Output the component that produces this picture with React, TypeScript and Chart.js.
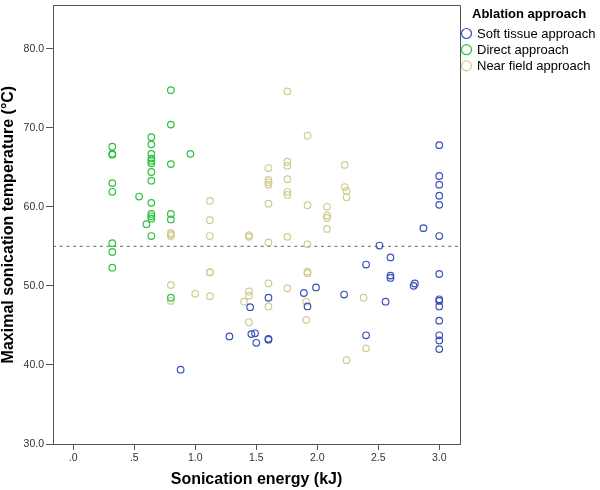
import React, { useEffect, useRef } from 'react';
import { Chart, registerables } from 'chart.js';

Chart.register(...registerables);

// ---- Data ----
const SERIES_NAMES = ['Soft tissue approach', 'Direct approach', 'Near field approach'];
const SERIES_COLORS = ['#3c52b8', '#2fc23f', '#d3cc92'];

const SOFT_X = [0.88, 1.28, 1.45, 1.46, 1.49, 1.50, 1.60, 1.60, 1.60, 1.89, 1.92, 1.99, 2.22, 2.40, 2.40, 2.51, 2.56, 2.60, 2.60, 2.60, 2.79, 2.80, 2.87,
  3.0, 3.0, 3.0, 3.0, 3.0, 3.0, 3.0, 3.0, 3.0, 3.0, 3.0, 3.0, 3.0, 3.0];
const SOFT_Y = [39.4, 43.6, 47.3, 43.9, 44.0, 42.8, 48.5, 43.3, 43.2, 49.1, 47.4, 49.8, 48.9, 52.7, 43.75, 55.1, 48.0, 53.6, 51.3, 51.0, 50.0, 50.3, 57.3,
  67.8, 63.9, 62.8, 61.4, 60.25, 56.3, 51.5, 48.3, 48.1, 47.4, 45.6, 43.75, 43.1, 42.0];

const DIRECT_X = [0.32, 0.32, 0.32, 0.32, 0.32, 0.32, 0.32, 0.32, 0.54, 0.60,
  0.64, 0.64, 0.64, 0.64, 0.64, 0.64, 0.64, 0.64, 0.64, 0.64, 0.64, 0.64, 0.64,
  0.80, 0.80, 0.80, 0.80, 0.80, 0.80, 0.96];
const DIRECT_Y = [67.6, 66.7, 66.6, 63.0, 61.9, 55.4, 54.3, 52.3, 61.3, 57.8,
  68.8, 67.9, 66.7, 66.1, 65.8, 65.5, 64.4, 63.3, 60.5, 59.1, 58.8, 58.5, 56.3,
  74.75, 70.4, 65.4, 59.1, 58.4, 48.5, 66.7];

const NEAR_X = [0.80, 0.80, 0.80, 0.80, 0.80, 1.00,
  1.12, 1.12, 1.12, 1.12, 1.12, 1.12, 1.40,
  1.44, 1.44, 1.44, 1.44, 1.44,
  1.60, 1.60, 1.60, 1.60, 1.60, 1.60, 1.60, 1.60,
  1.755, 1.755, 1.755, 1.755, 1.755, 1.755, 1.755, 1.755,
  1.92, 1.92, 1.92, 1.92, 1.92, 1.91, 1.91,
  2.08, 2.08, 2.08, 2.08, 2.225, 2.225, 2.24, 2.24, 2.24, 2.38, 2.40];
const NEAR_Y = [56.7, 56.5, 56.3, 50.1, 48.1, 49.0,
  60.75, 58.3, 56.3, 51.75, 51.7, 48.7, 48.0,
  56.4, 56.2, 49.3, 48.75, 45.4,
  64.9, 63.4, 63.1, 62.8, 60.4, 55.5, 50.3, 47.4,
  74.6, 65.7, 65.2, 63.5, 61.9, 61.5, 56.2, 49.7,
  69.0, 60.2, 55.25, 51.8, 51.6, 48.0, 45.7,
  60.0, 58.9, 58.6, 57.2, 65.3, 62.5, 62.0, 61.2, 40.6, 48.5, 42.1];

const X_TICKS = [0, 0.5, 1, 1.5, 2, 2.5, 3];
const X_TICK_LABELS = ['.0', '.5', '1.0', '1.5', '2.0', '2.5', '3.0'];
const Y_TICKS = [30, 40, 50, 60, 70, 80];
const Y_TICK_LABELS = ['30.0', '40.0', '50.0', '60.0', '70.0', '80.0'];

const X_MIN = -0.166;
const X_MAX = 3.17;
const Y_MIN = 30;
const Y_MAX = 85.5;
const REF_Y = 55;

const X_TITLE = 'Sonication energy (kJ)';
const Y_TITLE = 'Maximal sonication temperature (°C)';
const LEGEND_TITLE = 'Ablation approach';

// ---- Styles ----
const FONT = '"Liberation Sans", Arial, Helvetica, sans-serif';
const AXIS_COLOR = '#555555';
const TICK_COLOR = '#333333';

const toPoints = (xs: number[], ys: number[]) => xs.map((x, i) => ({ x, y: ys[i] }));

const frameAndLegend = {
  id: 'frameAndLegend',
  afterDraw(chart: any) {
    const { ctx, chartArea: a } = chart;
    ctx.save();
    ctx.strokeStyle = AXIS_COLOR;
    ctx.lineWidth = 1;
    ctx.beginPath();
    ctx.moveTo(a.left, Math.round(a.top) + 0.5);
    ctx.lineTo(Math.round(a.right) + 0.5, Math.round(a.top) + 0.5);
    ctx.lineTo(Math.round(a.right) + 0.5, a.bottom);
    ctx.stroke();

    // legend
    const lx = a.right + 12;
    ctx.fillStyle = '#000';
    ctx.textAlign = 'left';
    ctx.textBaseline = 'middle';
    ctx.font = `bold 13px ${FONT}`;
    ctx.fillText(LEGEND_TITLE, lx, 14);
    ctx.font = `13px ${FONT}`;
    const ds = chart.data.datasets.filter((d: any) => !d.isRef);
    ds.forEach((d: any, i: number) => {
      const y = 33.5 + i * 16.2;
      ctx.beginPath();
      ctx.strokeStyle = d.borderColor;
      ctx.lineWidth = 1.2;
      ctx.arc(a.right + 6.5, y, 5, 0, Math.PI * 2);
      ctx.stroke();
      ctx.fillStyle = '#000';
      ctx.fillText(d.label, a.right + 17, y + 0.5);
    });
    ctx.restore();
  },
};

export default function App() {
  const ref = useRef<HTMLCanvasElement | null>(null);

  useEffect(() => {
    if (!ref.current) return;
    const pointDs = (i: number, xs: number[], ys: number[]) => ({
      label: SERIES_NAMES[i],
      data: toPoints(xs, ys),
      borderColor: SERIES_COLORS[i],
      backgroundColor: 'rgba(0,0,0,0)',
      pointRadius: 3.3,
      pointBorderWidth: 1.2,
      pointStyle: 'circle',
    });
    const chart = new Chart(ref.current, {
      type: 'scatter',
      data: {
        datasets: [
          {
            label: 'ref',
            isRef: true,
            data: [{ x: X_MIN, y: REF_Y }, { x: X_MAX, y: REF_Y }],
            showLine: true,
            borderColor: '#666666',
            borderWidth: 1,
            borderDash: [3, 3.7],
            pointRadius: 0,
            order: 10,
          } as any,
          pointDs(0, SOFT_X, SOFT_Y),
          pointDs(1, DIRECT_X, DIRECT_Y),
          pointDs(2, NEAR_X, NEAR_Y),
        ],
      },
      options: {
        animation: false,
        responsive: false,
        maintainAspectRatio: false,
        devicePixelRatio: 1,
        layout: { padding: { top: 1, right: 140, bottom: 0, left: 0 } },
        plugins: {
          legend: { display: false },
          tooltip: { enabled: false },
        },
        scales: {
          x: {
            type: 'linear',
            min: X_MIN,
            max: X_MAX,
            afterBuildTicks: (s: any) => { s.ticks = X_TICKS.map((v) => ({ value: v })); },
            afterFit: (s: any) => { s.height = 46; s.paddingLeft = 0; s.paddingRight = 0; },
            grid: { display: true, drawOnChartArea: false, drawTicks: true, tickLength: 6, color: AXIS_COLOR, tickColor: AXIS_COLOR },
            border: { display: true, color: AXIS_COLOR, width: 1 },
            ticks: {
              padding: 2,
              color: TICK_COLOR,
              font: { family: FONT, size: 10.5 },
              maxRotation: 0,
              autoSkip: false,
              callback: (v: any) => { const i = X_TICKS.indexOf(Number(v)); return i >= 0 ? X_TICK_LABELS[i] : ''; },
            },
            title: {
              display: true,
              text: X_TITLE,
              color: '#000',
              font: { family: FONT, size: 16, weight: 'bold', lineHeight: 1 },
              padding: { top: 0, bottom: 2 },
            },
          },
          y: {
            type: 'linear',
            min: Y_MIN,
            max: Y_MAX,
            afterBuildTicks: (s: any) => { s.ticks = Y_TICKS.map((v) => ({ value: v })); },
            afterFit: (s: any) => { s.width = 53; s.paddingTop = 0; s.paddingBottom = 0; },
            grid: { display: true, drawOnChartArea: false, drawTicks: true, tickLength: 7, color: AXIS_COLOR, tickColor: AXIS_COLOR },
            border: { display: true, color: AXIS_COLOR, width: 1 },
            ticks: {
              padding: 2,
              color: TICK_COLOR,
              font: { family: FONT, size: 10.5 },
              autoSkip: false,
              callback: (v: any) => { const i = Y_TICKS.indexOf(Number(v)); return i >= 0 ? Y_TICK_LABELS[i] : ''; },
            },
            title: {
              display: true,
              text: Y_TITLE,
              color: '#000',
              font: { family: FONT, size: 16, weight: 'bold', lineHeight: 1 },
              padding: { top: 0.5, bottom: 0 },
            },
          },
        },
      } as any,
      plugins: [frameAndLegend],
    });
    return () => chart.destroy();
  }, []);

  return (
    <div style={{ position: 'absolute', left: 0, top: 0, width: 600, height: 490, background: '#fff' }}>
      <canvas ref={ref} width={600} height={490} style={{ width: 600, height: 490, display: 'block' }} />
    </div>
  );
}
